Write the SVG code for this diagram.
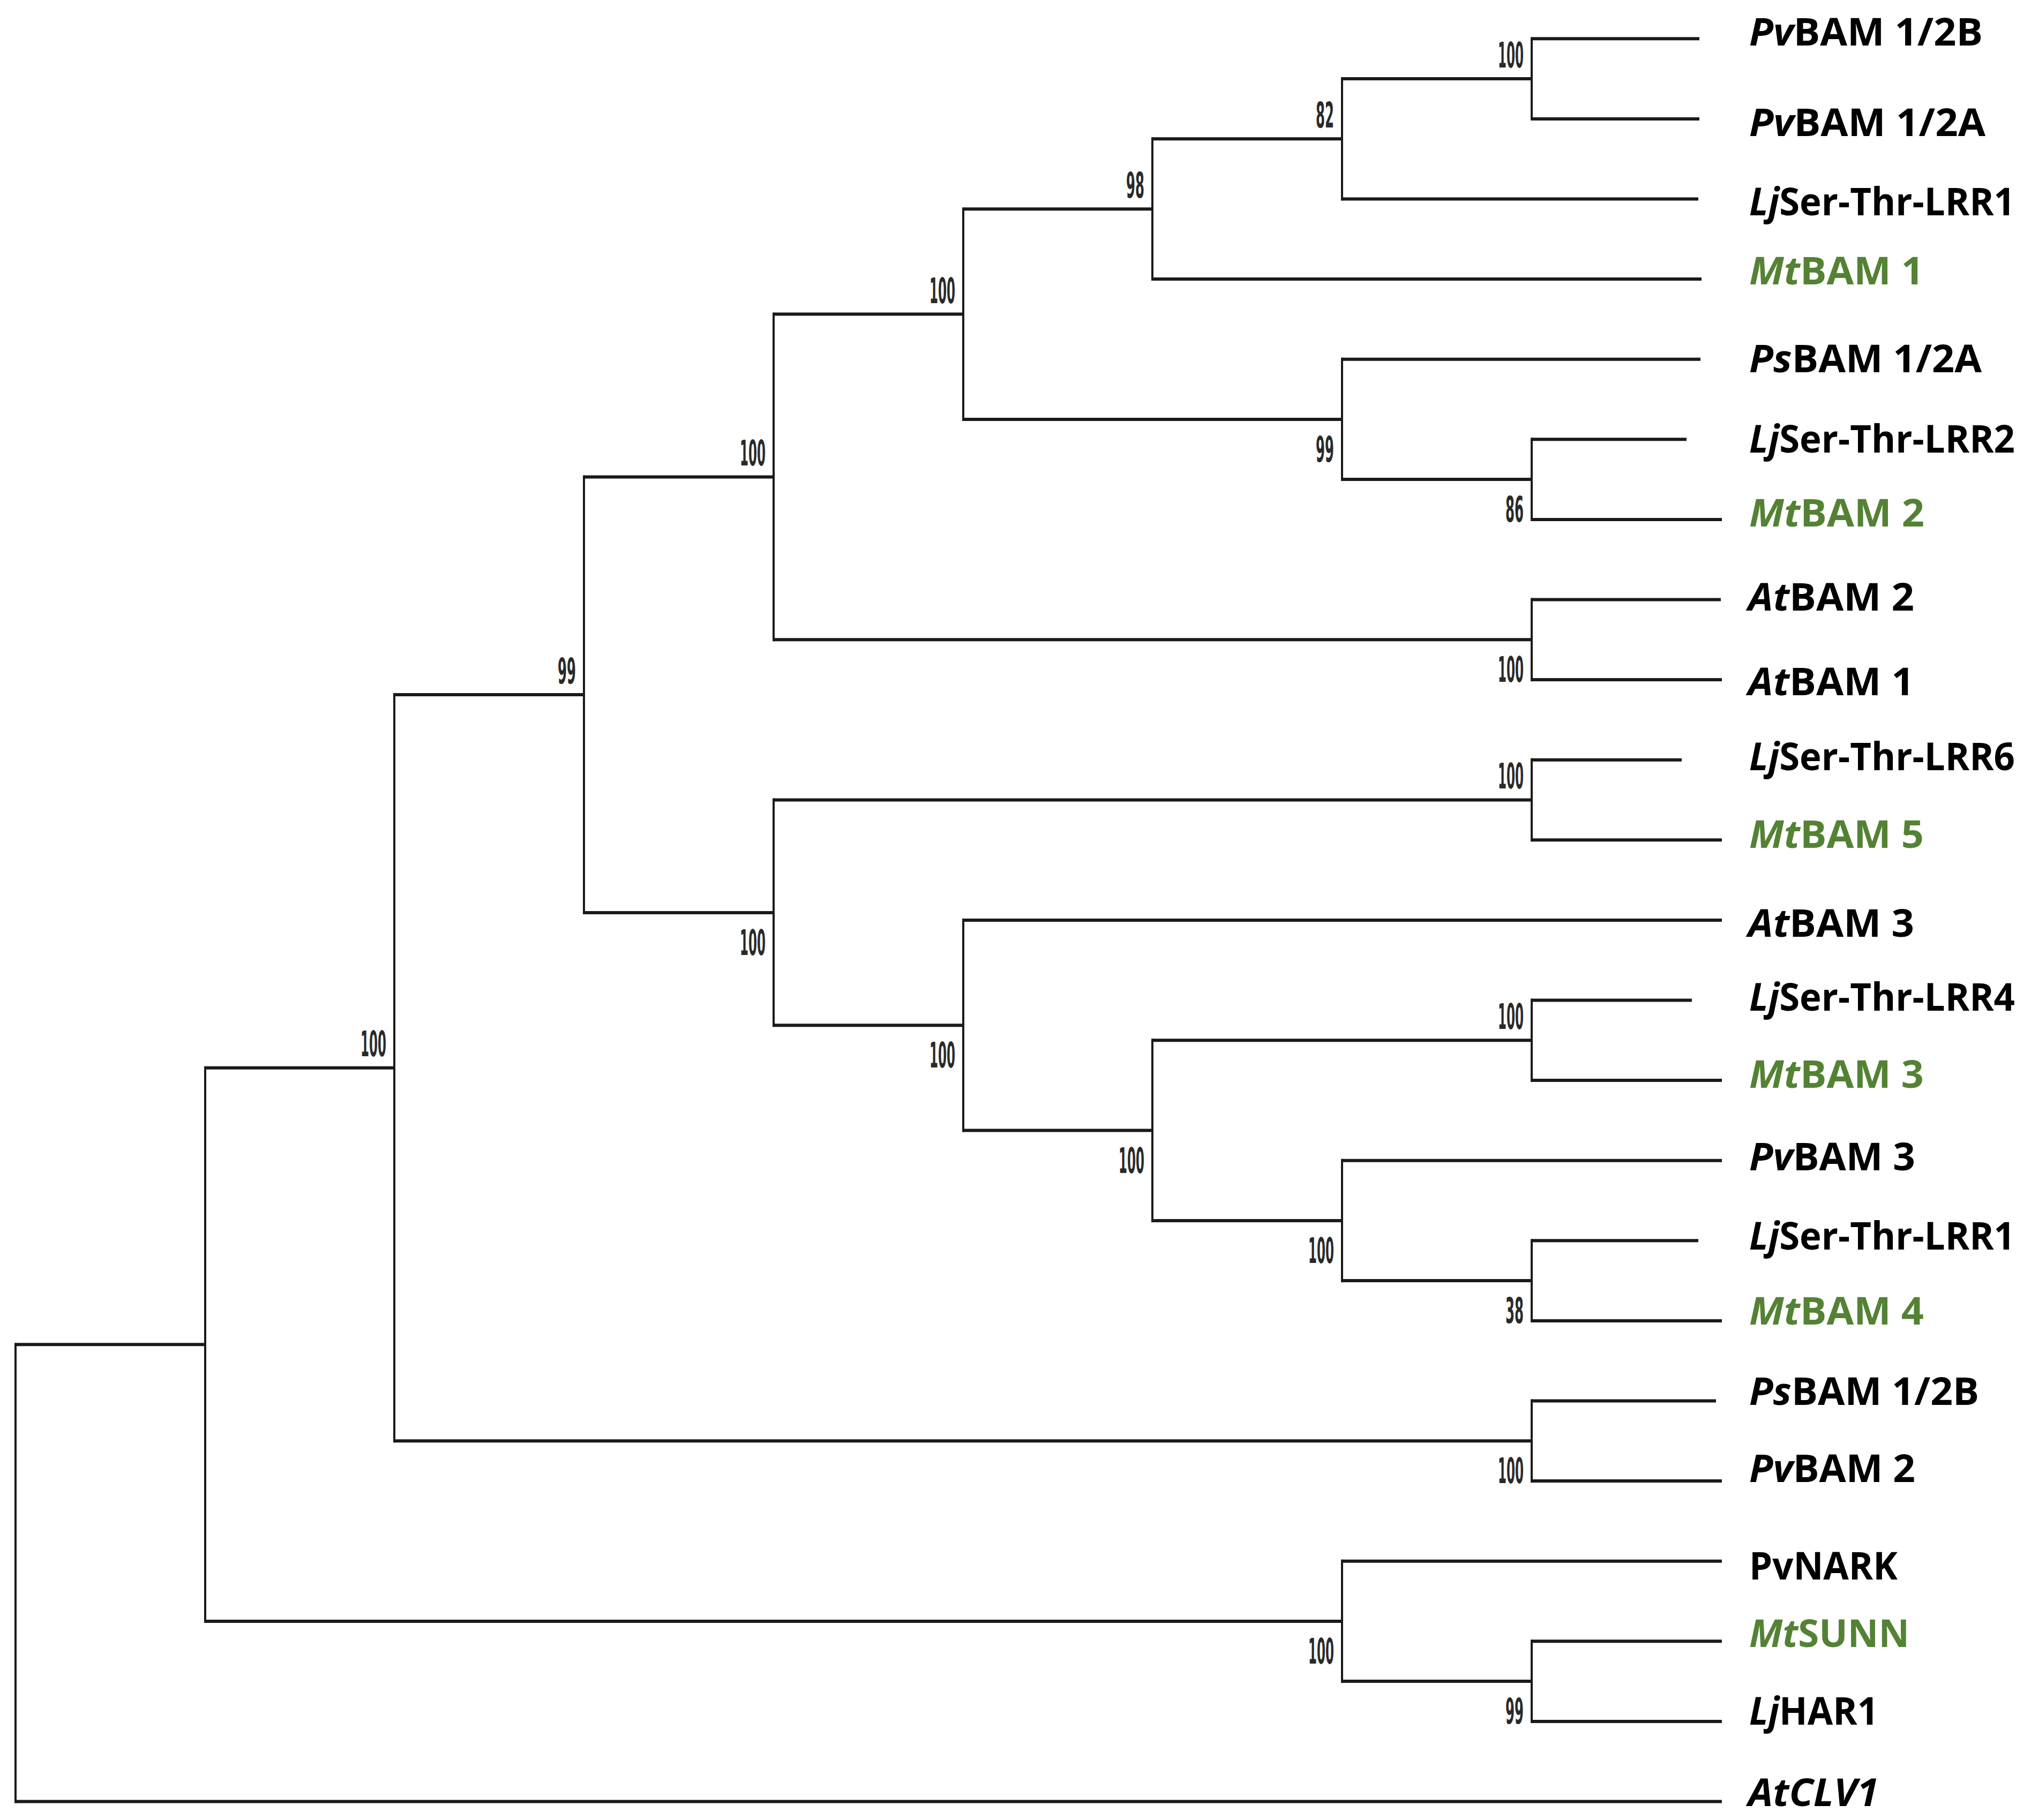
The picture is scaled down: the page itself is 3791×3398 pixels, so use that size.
<svg xmlns="http://www.w3.org/2000/svg" width="3791" height="3398" viewBox="0 0 3791 3398">
<style>
.h{stroke:#1a1a1a;stroke-width:6;fill:none}
.v{stroke:#1a1a1a;stroke-width:4;fill:none}
.lab{font-family:"Open Sans","Liberation Sans",sans-serif;font-weight:bold;font-size:71px;fill:#000}
.g{fill:#548235}
.i{font-style:italic}
.bs{font-family:"DejaVu Sans","Liberation Sans",sans-serif;font-weight:bold;font-size:66px;fill:#2a2a2a}
</style>
<rect width="3791" height="3398" fill="#fff"/>
<g id="connectors">
<line class="h" x1="2859" y1="72.3" x2="3172" y2="72.3"/>
<line class="h" x1="2859" y1="221.9" x2="3172" y2="221.9"/>
<line class="h" x1="2505" y1="371.5" x2="3170" y2="371.5"/>
<line class="h" x1="2151" y1="521.1" x2="3176" y2="521.1"/>
<line class="h" x1="2505" y1="670.7" x2="3174" y2="670.7"/>
<line class="h" x1="2859" y1="820.3" x2="3148" y2="820.3"/>
<line class="h" x1="2859" y1="969.9" x2="3214" y2="969.9"/>
<line class="h" x1="2859" y1="1119.5" x2="3212" y2="1119.5"/>
<line class="h" x1="2859" y1="1269.1" x2="3214" y2="1269.1"/>
<line class="h" x1="2859" y1="1418.7" x2="3139" y2="1418.7"/>
<line class="h" x1="2859" y1="1568.3" x2="3214" y2="1568.3"/>
<line class="h" x1="1798" y1="1717.9" x2="3214" y2="1717.9"/>
<line class="h" x1="2859" y1="1867.5" x2="3158" y2="1867.5"/>
<line class="h" x1="2859" y1="2017.1" x2="3214" y2="2017.1"/>
<line class="h" x1="2505" y1="2166.7" x2="3214" y2="2166.7"/>
<line class="h" x1="2859" y1="2316.3" x2="3170" y2="2316.3"/>
<line class="h" x1="2859" y1="2465.9" x2="3214" y2="2465.9"/>
<line class="h" x1="2859" y1="2615.5" x2="3203" y2="2615.5"/>
<line class="h" x1="2859" y1="2765.1" x2="3214" y2="2765.1"/>
<line class="h" x1="2505" y1="2914.7" x2="3214" y2="2914.7"/>
<line class="h" x1="2859" y1="3064.3" x2="3214" y2="3064.3"/>
<line class="h" x1="2859" y1="3213.9" x2="3214" y2="3213.9"/>
<line class="h" x1="29" y1="3363.5" x2="3214" y2="3363.5"/>
<line class="h" x1="2505" y1="147.1" x2="2859" y2="147.1"/>
<line class="h" x1="2151" y1="259.3" x2="2505" y2="259.3"/>
<line class="h" x1="1798" y1="390.2" x2="2151" y2="390.2"/>
<line class="h" x1="2505" y1="895.1" x2="2859" y2="895.1"/>
<line class="h" x1="1798" y1="782.9" x2="2505" y2="782.9"/>
<line class="h" x1="1444" y1="586.6" x2="1798" y2="586.6"/>
<line class="h" x1="1444" y1="1194.3" x2="2859" y2="1194.3"/>
<line class="h" x1="1090" y1="890.4" x2="1444" y2="890.4"/>
<line class="h" x1="1444" y1="1493.5" x2="2859" y2="1493.5"/>
<line class="h" x1="2151" y1="1942.3" x2="2859" y2="1942.3"/>
<line class="h" x1="2505" y1="2391.1" x2="2859" y2="2391.1"/>
<line class="h" x1="2151" y1="2278.9" x2="2505" y2="2278.9"/>
<line class="h" x1="1798" y1="2110.6" x2="2151" y2="2110.6"/>
<line class="h" x1="1444" y1="1914.3" x2="1798" y2="1914.3"/>
<line class="h" x1="1090" y1="1703.9" x2="1444" y2="1703.9"/>
<line class="h" x1="736" y1="1297.1" x2="1090" y2="1297.1"/>
<line class="h" x1="736" y1="2690.3" x2="2859" y2="2690.3"/>
<line class="h" x1="383" y1="1993.7" x2="736" y2="1993.7"/>
<line class="h" x1="2505" y1="3139.1" x2="2859" y2="3139.1"/>
<line class="h" x1="383" y1="3026.9" x2="2505" y2="3026.9"/>
<line class="h" x1="29" y1="2510.3" x2="383" y2="2510.3"/>
<line class="v" x1="2859" y1="69.3" x2="2859" y2="224.9"/>
<line class="v" x1="2505" y1="144.1" x2="2505" y2="374.5"/>
<line class="v" x1="2151" y1="256.3" x2="2151" y2="524.1"/>
<line class="v" x1="2859" y1="817.3" x2="2859" y2="972.9"/>
<line class="v" x1="2505" y1="667.7" x2="2505" y2="898.1"/>
<line class="v" x1="1798" y1="387.2" x2="1798" y2="785.9"/>
<line class="v" x1="2859" y1="1116.5" x2="2859" y2="1272.1"/>
<line class="v" x1="1444" y1="583.6" x2="1444" y2="1197.3"/>
<line class="v" x1="2859" y1="1415.7" x2="2859" y2="1571.3"/>
<line class="v" x1="2859" y1="1864.5" x2="2859" y2="2020.1"/>
<line class="v" x1="2859" y1="2313.3" x2="2859" y2="2468.9"/>
<line class="v" x1="2505" y1="2163.7" x2="2505" y2="2394.1"/>
<line class="v" x1="2151" y1="1939.3" x2="2151" y2="2281.9"/>
<line class="v" x1="1798" y1="1714.9" x2="1798" y2="2113.6"/>
<line class="v" x1="1444" y1="1490.5" x2="1444" y2="1917.3"/>
<line class="v" x1="1090" y1="887.4" x2="1090" y2="1706.9"/>
<line class="v" x1="2859" y1="2612.5" x2="2859" y2="2768.1"/>
<line class="v" x1="736" y1="1294.1" x2="736" y2="2693.3"/>
<line class="v" x1="2859" y1="3061.3" x2="2859" y2="3216.9"/>
<line class="v" x1="2505" y1="2911.7" x2="2505" y2="3142.1"/>
<line class="v" x1="383" y1="1990.7" x2="383" y2="3029.9"/>
<line class="v" x1="29" y1="2507.3" x2="29" y2="3366.5"/>
</g>
<g id="leaf-PvBAM12B"><text class="lab" x="3265" y="85" textLength="436" lengthAdjust="spacingAndGlyphs"><tspan class="i">Pv</tspan>BAM 1/2B</text></g>
<g id="leaf-PvBAM12A"><text class="lab" x="3265" y="254" textLength="441" lengthAdjust="spacingAndGlyphs"><tspan class="i">Pv</tspan>BAM 1/2A</text></g>
<g id="leaf-LjSerThrLRR1a"><text class="lab" x="3265" y="402" textLength="496" lengthAdjust="spacingAndGlyphs"><tspan class="i">Lj</tspan>Ser-Thr-LRR1</text></g>
<g id="leaf-MtBAM1"><text class="lab g" x="3265" y="531" textLength="326" lengthAdjust="spacingAndGlyphs"><tspan class="i">Mt</tspan>BAM 1</text></g>
<g id="leaf-PsBAM12A"><text class="lab" x="3265" y="695" textLength="434" lengthAdjust="spacingAndGlyphs"><tspan class="i">Ps</tspan>BAM 1/2A</text></g>
<g id="leaf-LjSerThrLRR2"><text class="lab" x="3265" y="845" textLength="496" lengthAdjust="spacingAndGlyphs"><tspan class="i">Lj</tspan>Ser-Thr-LRR2</text></g>
<g id="leaf-MtBAM2"><text class="lab g" x="3265" y="983" textLength="327" lengthAdjust="spacingAndGlyphs"><tspan class="i">Mt</tspan>BAM 2</text></g>
<g id="leaf-AtBAM2"><text class="lab" x="3263" y="1140" textLength="310" lengthAdjust="spacingAndGlyphs"><tspan class="i">At</tspan>BAM 2</text></g>
<g id="leaf-AtBAM1"><text class="lab" x="3263" y="1298" textLength="310" lengthAdjust="spacingAndGlyphs"><tspan class="i">At</tspan>BAM 1</text></g>
<g id="leaf-LjSerThrLRR6"><text class="lab" x="3265" y="1438" textLength="496" lengthAdjust="spacingAndGlyphs"><tspan class="i">Lj</tspan>Ser-Thr-LRR6</text></g>
<g id="leaf-MtBAM5"><text class="lab g" x="3265" y="1583" textLength="326" lengthAdjust="spacingAndGlyphs"><tspan class="i">Mt</tspan>BAM 5</text></g>
<g id="leaf-AtBAM3"><text class="lab" x="3263" y="1749" textLength="310" lengthAdjust="spacingAndGlyphs"><tspan class="i">At</tspan>BAM 3</text></g>
<g id="leaf-LjSerThrLRR4"><text class="lab" x="3265" y="1887" textLength="496" lengthAdjust="spacingAndGlyphs"><tspan class="i">Lj</tspan>Ser-Thr-LRR4</text></g>
<g id="leaf-MtBAM3"><text class="lab g" x="3265" y="2031" textLength="326" lengthAdjust="spacingAndGlyphs"><tspan class="i">Mt</tspan>BAM 3</text></g>
<g id="leaf-PvBAM3"><text class="lab" x="3265" y="2185" textLength="310" lengthAdjust="spacingAndGlyphs"><tspan class="i">Pv</tspan>BAM 3</text></g>
<g id="leaf-LjSerThrLRR1b"><text class="lab" x="3265" y="2333" textLength="496" lengthAdjust="spacingAndGlyphs"><tspan class="i">Lj</tspan>Ser-Thr-LRR1</text></g>
<g id="leaf-MtBAM4"><text class="lab g" x="3265" y="2473" textLength="326" lengthAdjust="spacingAndGlyphs"><tspan class="i">Mt</tspan>BAM 4</text></g>
<g id="leaf-PsBAM12B"><text class="lab" x="3265" y="2623" textLength="429" lengthAdjust="spacingAndGlyphs"><tspan class="i">Ps</tspan>BAM 1/2B</text></g>
<g id="leaf-PvBAM2"><text class="lab" x="3265" y="2767" textLength="310" lengthAdjust="spacingAndGlyphs"><tspan class="i">Pv</tspan>BAM 2</text></g>
<g id="leaf-PvNARK"><text class="lab" x="3265" y="2949" textLength="277" lengthAdjust="spacingAndGlyphs">PvNARK</text></g>
<g id="leaf-MtSUNN"><text class="lab g" x="3265" y="3075" textLength="299" lengthAdjust="spacingAndGlyphs"><tspan class="i">Mt</tspan>SUNN</text></g>
<g id="leaf-LjHAR1"><text class="lab" x="3265" y="3220" textLength="241" lengthAdjust="spacingAndGlyphs"><tspan class="i">Lj</tspan>HAR1</text></g>
<g id="leaf-AtCLV1"><text class="lab i" x="3263" y="3372" textLength="244" lengthAdjust="spacingAndGlyphs">AtCLV1</text></g>
<g id="node-n1"><text class="bs" x="2796" y="126" textLength="48" lengthAdjust="spacingAndGlyphs">100</text></g>
<g id="node-n2"><text class="bs" x="2456" y="238" textLength="34" lengthAdjust="spacingAndGlyphs">82</text></g>
<g id="node-n3"><text class="bs" x="2102" y="369" textLength="34" lengthAdjust="spacingAndGlyphs">98</text></g>
<g id="node-n4"><text class="bs" x="2810" y="974" textLength="34" lengthAdjust="spacingAndGlyphs">86</text></g>
<g id="node-n5"><text class="bs" x="2456" y="862" textLength="34" lengthAdjust="spacingAndGlyphs">99</text></g>
<g id="node-n6"><text class="bs" x="1735" y="566" textLength="48" lengthAdjust="spacingAndGlyphs">100</text></g>
<g id="node-n7"><text class="bs" x="2796" y="1273" textLength="48" lengthAdjust="spacingAndGlyphs">100</text></g>
<g id="node-n8"><text class="bs" x="1381" y="869" textLength="48" lengthAdjust="spacingAndGlyphs">100</text></g>
<g id="node-n9"><text class="bs" x="2796" y="1472" textLength="48" lengthAdjust="spacingAndGlyphs">100</text></g>
<g id="node-n10"><text class="bs" x="2796" y="1921" textLength="48" lengthAdjust="spacingAndGlyphs">100</text></g>
<g id="node-n11"><text class="bs" x="2810" y="2470" textLength="34" lengthAdjust="spacingAndGlyphs">38</text></g>
<g id="node-n12"><text class="bs" x="2442" y="2358" textLength="48" lengthAdjust="spacingAndGlyphs">100</text></g>
<g id="node-n13"><text class="bs" x="2088" y="2190" textLength="48" lengthAdjust="spacingAndGlyphs">100</text></g>
<g id="node-n14"><text class="bs" x="1735" y="1993" textLength="48" lengthAdjust="spacingAndGlyphs">100</text></g>
<g id="node-n15"><text class="bs" x="1381" y="1783" textLength="48" lengthAdjust="spacingAndGlyphs">100</text></g>
<g id="node-n16"><text class="bs" x="1041" y="1276" textLength="34" lengthAdjust="spacingAndGlyphs">99</text></g>
<g id="node-n17"><text class="bs" x="2796" y="2769" textLength="48" lengthAdjust="spacingAndGlyphs">100</text></g>
<g id="node-n18"><text class="bs" x="673" y="1972" textLength="48" lengthAdjust="spacingAndGlyphs">100</text></g>
<g id="node-n19"><text class="bs" x="2810" y="3218" textLength="34" lengthAdjust="spacingAndGlyphs">99</text></g>
<g id="node-n20"><text class="bs" x="2442" y="3106" textLength="48" lengthAdjust="spacingAndGlyphs">100</text></g>
</svg>
